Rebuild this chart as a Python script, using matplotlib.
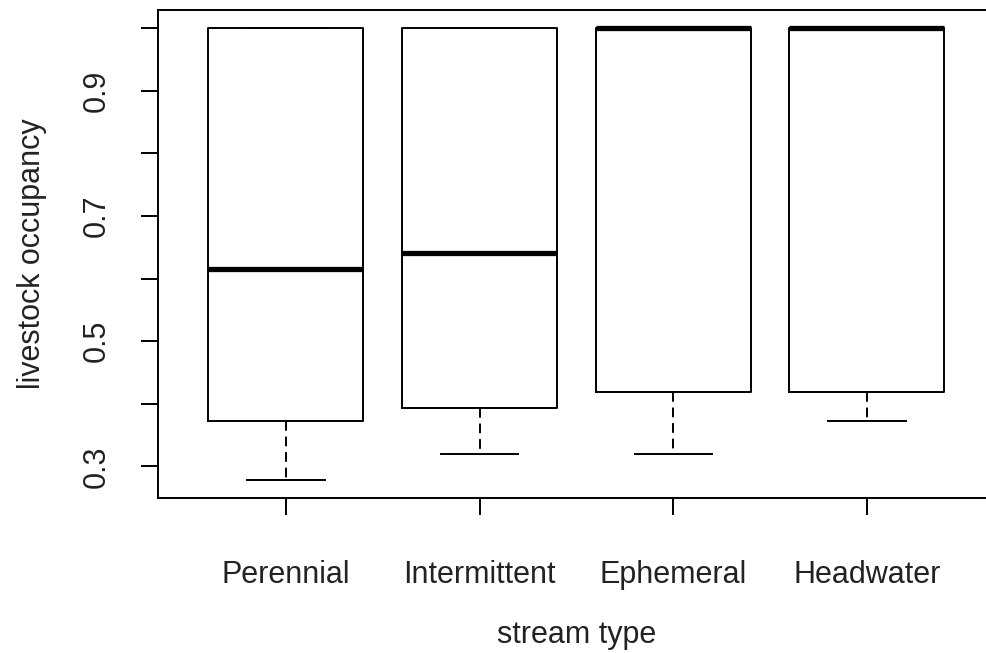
import numpy as np
import matplotlib
matplotlib.use("Agg")
from matplotlib import pyplot as plt

plt.rcParams['font.family'] = ['Liberation Sans', 'DejaVu Sans']

# box statistics
stream_types = ["Perennial", "Intermittent", "Ephemeral", "Headwater"]
q1 = [0.372, 0.3935, 0.4195, 0.4195]
medians = [0.6155, 0.641, 1.0, 1.0]
q3 = [1.0, 1.0, 1.0, 1.0]
whisk_lo = [0.2785, 0.320, 0.320, 0.372]
whisk_hi = [1.0, 1.0, 1.0, 1.0]

y_ticks = [0.3, 0.4, 0.5, 0.6, 0.7, 0.8, 0.9, 1.0]
y_ticklabels = ["0.3", "", "0.5", "", "0.7", "", "0.9", ""]

stats = []
for name, a, m, b, lo, hi in zip(stream_types, q1, medians, q3, whisk_lo, whisk_hi):
    stats.append({"label": name, "q1": a, "med": m, "q3": b,
                  "whislo": lo, "whishi": hi, "fliers": []})

fig = plt.figure(figsize=(9.86, 6.53), dpi=100)
# right border of the original is cut off, so the axes run past the edge
ax = fig.add_axes([158 / 986, 155 / 653, 836.8 / 986, 488 / 653])

lw = 1.4
ax.bxp(stats, positions=range(1, 5), widths=0.8, capwidths=0.4,
       showfliers=False,
       boxprops=dict(color="black", linewidth=lw),
       whiskerprops=dict(color="black", linewidth=lw, linestyle=(0, (5, 3))),
       capprops=dict(color="black", linewidth=lw),
       medianprops=dict(color="black", linewidth=3.8, solid_capstyle="butt"))

# R style axis ranges (4% padding)
lo, hi = min(whisk_lo), max(whisk_hi)
pad = 0.04 * (hi - lo)
ax.set_ylim(lo - pad, hi + pad)
ax.set_xlim(0.5 - 0.16, 4.5 + 0.16)

ax.set_yticks(y_ticks)
ax.set_yticklabels(y_ticklabels, rotation=90, va="center")
ax.set_xticks(range(1, 5))
ax.set_xticklabels(stream_types)

fs = 22
ax.tick_params(axis="both", labelsize=fs, length=12.5, width=lw, color="black",
               labelcolor="#222222")
ax.tick_params(axis="x", pad=32)
ax.tick_params(axis="y", pad=21)
for s in ax.spines.values():
    s.set_linewidth(lw)

ax.set_xlabel("stream type", fontsize=fs, labelpad=22, color="#222222")
ax.set_ylabel("livestock occupancy", fontsize=fs, labelpad=25, color="#222222")

fig.savefig("out.png", dpi=100)
